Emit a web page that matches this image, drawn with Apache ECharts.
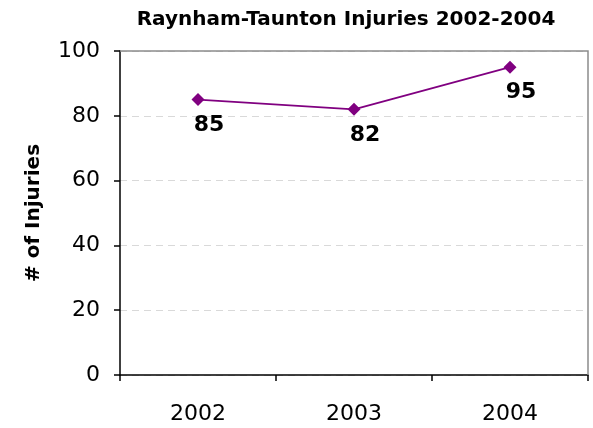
<!DOCTYPE html>
<html><head><meta charset="utf-8">
<script src="https://cdn.jsdelivr.net/npm/echarts@6/dist/echarts.min.js"></script>
<style>html,body{margin:0;padding:0;background:#fff}#c{width:593px;height:428px}</style>
</head><body><div id="c"></div>
<script>
const titleText = "Raynham-Taunton Injuries 2002-2004";
const years = ["2002", "2003", "2004"];
const injuries = [85, 82, 95];
const yTicks = [0, 20, 40, 60, 80, 100];
const yName = "# of Injuries";

const G = {left:120, top:51, right:5, bottom:53};
const chart = echarts.init(document.getElementById('c'), null, {renderer:'canvas'});
chart.setOption({
  animation:false,
  backgroundColor:'#fff',
  title:{text:titleText, left:341, textAlign:'center', top:5,
    textStyle:{fontFamily:'DejaVu Sans', fontWeight:'bold', fontSize:20, color:'#000'}},
  grid:{left:G.left, top:G.top, right:G.right, bottom:G.bottom},
  xAxis:{type:'category', data:years, boundaryGap:true,
    axisLine:{lineStyle:{color:'#000', width:1.5}},
    axisTick:{show:true, length:6, inside:false, lineStyle:{color:'#000', width:1.5}},
    axisLabel:{margin:28, fontFamily:'DejaVu Sans', fontSize:22, color:'#000'}},
  yAxis:{type:'value', min:yTicks[0], max:yTicks[yTicks.length-1], interval:20,
    name:yName, nameLocation:'middle', nameGap:76, nameRotate:90,
    nameTextStyle:{fontFamily:'DejaVu Sans', fontWeight:'bold', fontSize:20, color:'#000'},
    axisLine:{show:true, lineStyle:{color:'#000', width:1.5}},
    axisTick:{show:true, length:6, lineStyle:{color:'#000', width:1.5}},
    axisLabel:{margin:20, fontFamily:'DejaVu Sans', fontSize:22, color:'#000'},
    splitLine:{show:true, lineStyle:{color:'#d9d9d9', type:[7,5], width:1}}},
  graphic:[{type:'polyline', z:5, silent:true,
    shape:{points:[[G.left,G.top],[593-G.right,G.top],[593-G.right,428-G.bottom]]},
    style:{stroke:'#8c8c8c', lineWidth:1.5, fill:null}}],
  series:[{type:'line', data:injuries, z:10,
    symbol:'diamond', symbolSize:13,
    lineStyle:{color:'#800080', width:1.8},
    itemStyle:{color:'#800080'},
    label:{show:true, position:'bottom', distance:8, offset:[11,0],
      fontFamily:'DejaVu Sans', fontWeight:'bold', fontSize:22, color:'#000'}}]
});
</script></body></html>
